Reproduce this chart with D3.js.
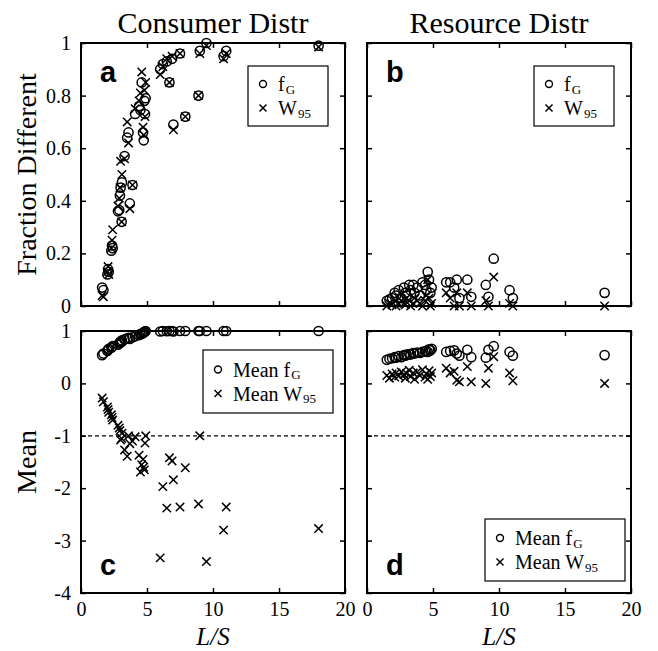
<!DOCTYPE html>
<html><head><meta charset="utf-8">
<script src="https://cdn.jsdelivr.net/npm/d3@7"></script>
<style>body{margin:0;background:#fff}svg{display:block}</style>
</head><body><svg id="chart" width="658" height="651"></svg>
<script>
// ---------- data ----------
const xTicks = [0, 5, 10, 15, 20];
const fracTicks = [0, 0.2, 0.4, 0.6, 0.8, 1];
const meanTicks = [-4, -3, -2, -1, 0, 1];
const columnTitles = ["Consumer Distr", "Resource Distr"];
const panelLetters = ["a", "b", "c", "d"];

// Consumer distribution runs
const consumerLS      = [1.6, 1.7, 2.0, 2.05, 2.1, 2.3, 2.35, 2.4, 2.8, 2.9, 2.95, 3.0, 3.08, 3.1, 3.3, 3.5, 3.6, 3.7, 3.9, 4.1, 4.4, 4.5, 4.6, 4.7, 4.75, 4.8, 4.85, 4.9, 6.0, 6.2, 6.5, 6.7, 6.9, 7.0, 7.5, 7.9, 8.9, 9.0, 9.5, 10.8, 11.0, 18.0];
const consumerFG      = [0.07, 0.06, 0.12, 0.14, 0.13, 0.21, 0.23, 0.22, 0.36, 0.365, 0.42, 0.45, 0.32, 0.47, 0.57, 0.64, 0.66, 0.39, 0.46, 0.73, 0.76, 0.745, 0.85, 0.66, 0.63, 0.78, 0.73, 0.79, 0.90, 0.92, 0.93, 0.85, 0.94, 0.69, 0.96, 0.72, 0.80, 0.97, 1.0, 0.95, 0.97, 0.99];
const consumerW95     = [0.04, 0.035, 0.13, 0.15, 0.12, 0.22, 0.25, 0.29, 0.38, 0.41, 0.45, 0.55, 0.32, 0.50, 0.56, 0.70, 0.62, 0.37, 0.46, 0.75, 0.78, 0.81, 0.89, 0.68, 0.65, 0.82, 0.72, 0.85, 0.88, 0.91, 0.94, 0.85, 0.95, 0.67, 0.96, 0.72, 0.80, 0.96, 0.99, 0.94, 0.96, 0.985];
const consumerMeanFG  = [0.54, 0.57, 0.62, 0.64, 0.66, 0.68, 0.70, 0.71, 0.74, 0.76, 0.78, 0.80, 0.79, 0.82, 0.84, 0.86, 0.87, 0.85, 0.88, 0.90, 0.92, 0.94, 0.95, 0.96, 0.97, 0.98, 0.99, 1.0, 0.99, 1.0, 0.995, 1.0, 1.0, 0.99, 1.0, 1.0, 1.0, 1.0, 1.0, 1.0, 1.0, 1.0];
const consumerMeanW95 = [-0.28, -0.35, -0.45, -0.5, -0.55, -0.6, -0.65, -0.7, -0.8, -0.85, -0.9, -1.08, -1.05, -0.95, -1.27, -1.39, -1.0, -1.15, -1.1, -1.02, -1.37, -1.69, -1.55, -1.45, -1.6, -1.65, -1.14, -1.0, -3.33, -1.97, -2.38, -1.42, -1.48, -1.84, -2.36, -1.61, -2.30, -1.0, -3.4, -2.8, -2.36, -2.77];

// Resource distribution runs
const resourceLS      = [1.5, 1.7, 1.9, 2.1, 2.2, 2.4, 2.6, 2.8, 2.9, 3.0, 3.2, 3.3, 3.5, 3.6, 3.8, 4.0, 4.2, 4.4, 4.5, 4.6, 4.7, 4.8, 4.9, 6.0, 6.3, 6.6, 6.8, 7.0, 7.6, 7.9, 9.0, 9.2, 9.6, 10.8, 11.05, 18.0];
const resourceFG      = [0.02, 0.025, 0.03, 0.05, 0.04, 0.06, 0.03, 0.07, 0.05, 0.04, 0.08, 0.06, 0.08, 0.05, 0.07, 0.04, 0.09, 0.08, 0.06, 0.13, 0.10, 0.05, 0.07, 0.09, 0.09, 0.07, 0.10, 0.03, 0.10, 0.035, 0.08, 0.035, 0.18, 0.06, 0.03, 0.05];
const resourceW95     = [0.0, 0.01, 0.005, 0.02, 0.0, 0.01, 0.02, 0.01, 0.005, 0.03, 0.02, 0.0, 0.01, 0.03, 0.02, 0.01, 0.0, 0.02, 0.04, 0.10, 0.03, 0.0, 0.01, 0.05, 0.03, 0.0, 0.05, 0.0, 0.05, 0.0, 0.02, 0.0, 0.11, 0.01, 0.0, 0.0];
const resourceMeanFG  = [0.45, 0.47, 0.48, 0.50, 0.49, 0.52, 0.50, 0.54, 0.53, 0.55, 0.56, 0.55, 0.58, 0.57, 0.59, 0.58, 0.60, 0.61, 0.62, 0.60, 0.65, 0.63, 0.66, 0.60, 0.62, 0.63, 0.57, 0.53, 0.64, 0.50, 0.49, 0.64, 0.71, 0.60, 0.53, 0.54];
const resourceMeanW95 = [0.15, 0.10, 0.18, 0.12, 0.20, 0.14, 0.22, 0.17, 0.10, 0.19, 0.25, 0.13, 0.20, 0.08, 0.22, 0.15, 0.26, 0.12, 0.18, 0.08, 0.24, 0.13, 0.20, 0.29, 0.20, 0.23, 0.06, 0.03, 0.32, 0.03, 0.00, 0.29, 0.51, 0.20, 0.05, 0.00];

// ---------- drawing ----------
const serif = "'Liberation Serif','Times New Roman',Times,serif";
const sans = "'Liberation Sans',Arial,Helvetica,sans-serif";
const svg = d3.select("#chart");
svg.append("rect").attr("width", 658).attr("height", 651).attr("fill", "#fff");

const colX = [[81, 345], [367, 631]];
const rowY = [[306, 43], [593, 331]];

const xScales = colX.map(r => d3.scaleLinear().domain([0, 20]).range(r));
const yScales = [
  d3.scaleLinear().domain([0, 1]).range(rowY[0]),
  d3.scaleLinear().domain([-4, 1]).range(rowY[1])
];

const panels = [
  {col: 0, row: 0, xs: consumerLS, o: consumerFG, x: consumerW95, letter: panelLetters[0], legend: "top", labels: ["f", "W"], subs: ["G", "95"]},
  {col: 1, row: 0, xs: resourceLS, o: resourceFG, x: resourceW95, letter: panelLetters[1], legend: "top", labels: ["f", "W"], subs: ["G", "95"]},
  {col: 0, row: 1, xs: consumerLS, o: consumerMeanFG, x: consumerMeanW95, letter: panelLetters[2], legend: "mid", labels: ["Mean f", "Mean W"], subs: ["G", "95"]},
  {col: 1, row: 1, xs: resourceLS, o: resourceMeanFG, x: resourceMeanW95, letter: panelLetters[3], legend: "bottom", labels: ["Mean f", "Mean W"], subs: ["G", "95"]}
];

const crossPath = s => `M${-s},${-s}L${s},${s}M${-s},${s}L${s},${-s}`;

panels.forEach(p => {
  const xs = xScales[p.col], ys = yScales[p.row];
  const [l, r] = xs.range();
  const [b, t] = ys.range();
  const g = svg.append("g");
  const yt = p.row === 0 ? fracTicks : meanTicks;

  // dashed reference line
  if (p.row === 1) {
    g.append("line").attr("x1", l).attr("x2", r).attr("y1", ys(-1)).attr("y2", ys(-1))
      .attr("stroke", "#000").attr("stroke-width", 1.3).attr("stroke-dasharray", "4,3");
  }

  // axes (inward ticks on all four sides)
  const fmtY = d => (p.col === 0 ? String(d) : "");
  const fmtX = d => (p.row === 1 ? String(d) : "");
  const bottom = g.append("g").attr("transform", `translate(0,${b})`)
    .call(d3.axisBottom(xs).tickValues(xTicks).tickSizeInner(-5).tickSizeOuter(0).tickPadding(9).tickFormat(fmtX));
  const top = g.append("g").attr("transform", `translate(0,${t})`)
    .call(d3.axisTop(xs).tickValues(xTicks).tickSizeInner(-5).tickSizeOuter(0).tickFormat(""));
  const left = g.append("g").attr("transform", `translate(${l},0)`)
    .call(d3.axisLeft(ys).tickValues(yt).tickSizeInner(-5).tickSizeOuter(0).tickPadding(10).tickFormat(fmtY));
  const right = g.append("g").attr("transform", `translate(${r},0)`)
    .call(d3.axisRight(ys).tickValues(yt).tickSizeInner(-5).tickSizeOuter(0).tickFormat(""));
  [bottom, top, left, right].forEach(a => {
    a.select(".domain").remove();
    a.selectAll(".tick line").attr("stroke", "#000").attr("stroke-width", 1.5);
    a.selectAll("text").attr("font-family", serif).attr("font-size", 20).attr("fill", "#000");
    a.selectAll("text").filter(function () { return this.textContent === ""; }).remove();
  });

  // markers
  const data = p.xs.map((v, i) => ({ls: v, o: p.o[i], x: p.x[i]}));
  g.selectAll("circle.m").data(data).enter().append("circle")
    .attr("cx", d => xs(d.ls)).attr("cy", d => ys(d.o)).attr("r", 4.6)
    .attr("fill", "none").attr("stroke", "#000").attr("stroke-width", 1.5);
  g.selectAll("path.m").data(data).enter().append("path")
    .attr("transform", d => `translate(${xs(d.ls)},${ys(d.x)})`)
    .attr("d", crossPath(4.2)).attr("fill", "none").attr("stroke", "#000").attr("stroke-width", 1.5);

  // frame
  g.append("rect").attr("x", l).attr("y", t).attr("width", r - l).attr("height", b - t)
    .attr("fill", "none").attr("stroke", "#000").attr("stroke-width", 2);

  // panel letter
  const letterY = p.row === 0 ? t + 39 : b - 18;
  g.append("text").attr("x", l + 19).attr("y", letterY).text(p.letter)
    .attr("font-family", sans).attr("font-weight", "bold").attr("font-size", 29).attr("fill", "#000");

  // legend
  let box;
  if (p.legend === "top") box = {x: r - 97, y: t + 23, w: 80, h: 60};
  else if (p.legend === "mid") box = {x: r - 142, y: t + 19, w: 130, h: 63};
  else box = {x: r - 146, y: b - 74, w: 140, h: 62};
  const lg = g.append("g");
  lg.append("rect").attr("x", box.x).attr("y", box.y).attr("width", box.w).attr("height", box.h)
    .attr("fill", "#fff").attr("stroke", "#000").attr("stroke-width", 1.2);
  const mx = box.x + 15, tx = box.x + 30;
  const mid = box.y + box.h / 2;
  const rows = [mid - 12, mid + 12];
  lg.append("circle").attr("cx", mx).attr("cy", rows[0]).attr("r", 3.5)
    .attr("fill", "none").attr("stroke", "#000").attr("stroke-width", 1.4);
  lg.append("path").attr("transform", `translate(${mx},${rows[1]})`).attr("d", crossPath(3.5))
    .attr("stroke", "#000").attr("stroke-width", 1.5);
  rows.forEach((ry, i) => {
    const main = lg.append("text").attr("x", tx).attr("y", ry + 7)
      .attr("font-family", serif).attr("font-size", 20).attr("fill", "#000").text(p.labels[i]);
    const w = main.node().getComputedTextLength();
    lg.append("text").attr("x", tx + w + 1).attr("y", ry + 9.5)
      .attr("font-family", serif).attr("font-size", 13).attr("fill", "#000").text(p.subs[i]);
  });
});

// column titles and x labels
columnTitles.forEach((tt, i) => {
  svg.append("text").attr("x", d3.mean(colX[i])).attr("y", 33).attr("text-anchor", "middle")
    .attr("font-family", serif).attr("font-size", 30).attr("fill", "#000").text(tt);
  svg.append("text").attr("x", d3.mean(colX[i])).attr("y", 645).attr("text-anchor", "middle")
    .attr("font-family", serif).attr("font-style", "italic").attr("font-size", 25).attr("fill", "#000").text("L/S");
});

// y labels
[["Fraction Different", d3.mean(rowY[0])], ["Mean", d3.mean(rowY[1])]].forEach(([lab, cy]) => {
  svg.append("text").attr("transform", `translate(36,${cy}) rotate(-90)`).attr("text-anchor", "middle")
    .attr("font-family", serif).attr("font-size", 28).attr("fill", "#000").text(lab);
});
</script>
</body></html>
